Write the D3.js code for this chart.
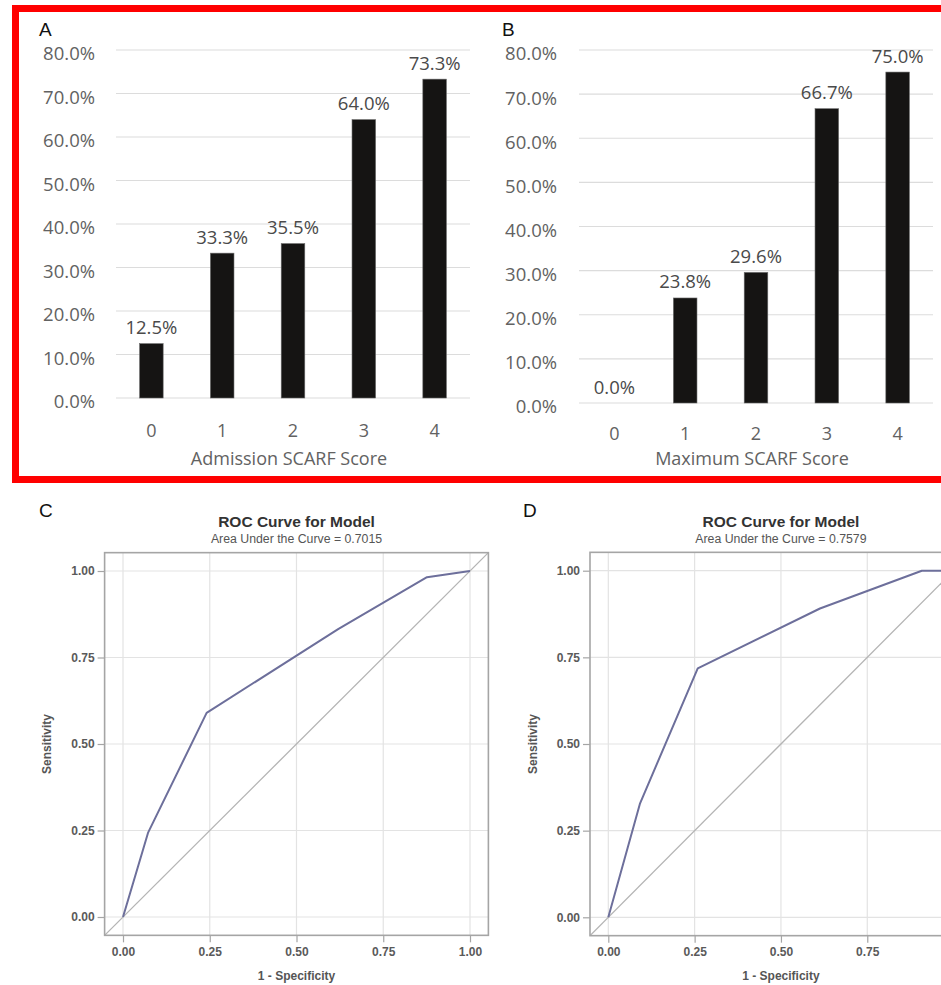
<!DOCTYPE html>
<html>
<head>
<meta charset="utf-8">
<script src="https://cdn.jsdelivr.net/npm/d3@7"></script>
<style>
  html, body { margin: 0; padding: 0; background: #fff; }
  svg { display: block; }
</style>
</head>
<body>
<svg id="fig" width="941" height="985"></svg>
<script>
// SCARF score categories and the percentage for each score
const scoreCategories = ["0", "1", "2", "3", "4"];
const admissionPct = [12.5, 33.3, 35.5, 64.0, 73.3];
const maximumPct = [0.0, 23.8, 29.6, 66.7, 75.0];
const pctTicks = [0, 10, 20, 30, 40, 50, 60, 70, 80];

// ROC curve vertices (1 - specificity, sensitivity)
const rocAdmissionFpr = [0.0, 0.072, 0.241, 0.62, 0.876, 1.0];
const rocAdmissionTpr = [0.0, 0.243, 0.590, 0.832, 0.982, 1.0];
const rocMaximumFpr = [0.0, 0.092, 0.259, 0.613, 0.908, 1.0];
const rocMaximumTpr = [0.0, 0.329, 0.718, 0.891, 1.0, 1.0];
const rocTicks = [0, 0.25, 0.5, 0.75, 1.0];

const svg = d3.select("#fig");
const svgWidth = +svg.attr("width");
const barFont = "'Open Sans', 'DejaVu Sans', sans-serif";
const rocFont = "'Liberation Sans', Arial, sans-serif";

// ---------- bar panels ----------
function drawBarPanel(cfg) {
  const g = svg.append("g");
  const x = d3.scaleBand()
    .domain(scoreCategories)
    .range([cfg.left, cfg.right])
    .paddingInner(0.667)
    .paddingOuter(0.333);
  const y = d3.scaleLinear().domain([0, 80]).range([cfg.bottom, cfg.top]);

  // horizontal gridlines
  g.selectAll("line.grid").data(pctTicks).join("line")
    .attr("x1", cfg.left).attr("x2", cfg.right)
    .attr("y1", d => y(d)).attr("y2", d => y(d))
    .attr("stroke", "#dcdcdc").attr("stroke-width", 1.2);

  // y tick labels
  g.selectAll("text.ytick").data(pctTicks).join("text")
    .attr("x", cfg.labelRight)
    .attr("y", d => y(d) + 4)
    .attr("dy", "0.35em")
    .attr("text-anchor", "end")
    .attr("font-family", barFont).attr("font-size", 18.5)
    .attr("fill", "#626262")
    .text(d => d3.format(".1f")(d) + "%");

  const vals = scoreCategories.map((c, i) => ({ c, v: cfg.values[i] }));

  // bars
  g.selectAll("rect.bar").data(vals).join("rect")
    .attr("x", d => x(d.c))
    .attr("width", x.bandwidth())
    .attr("y", d => y(d.v))
    .attr("height", d => y(0) - y(d.v))
    .attr("fill", "#151413")
    .attr("stroke", "#6a6a6a").attr("stroke-width", 0.6);

  // value labels
  g.selectAll("text.val").data(vals).join("text")
    .attr("x", d => x(d.c) + x.bandwidth() / 2)
    .attr("y", d => y(d.v) - 9.5)
    .attr("text-anchor", "middle")
    .attr("font-family", barFont).attr("font-size", 18.5)
    .attr("fill", "#4a4a4a")
    .text(d => d3.format(".1f")(d.v) + "%");

  // category labels
  g.selectAll("text.xtick").data(scoreCategories).join("text")
    .attr("x", d => x(d) + x.bandwidth() / 2)
    .attr("y", cfg.xTickY)
    .attr("text-anchor", "middle")
    .attr("font-family", barFont).attr("font-size", 18)
    .attr("fill", "#626262")
    .text(d => d);

  // axis title
  g.append("text")
    .attr("x", (cfg.left + cfg.right) / 2 - 4)
    .attr("y", 465)
    .attr("text-anchor", "middle")
    .attr("font-family", barFont).attr("font-size", 18)
    .attr("fill", "#626262")
    .text(cfg.title);

  // panel letter
  g.append("text")
    .attr("x", cfg.letterX).attr("y", 36)
    .attr("font-family", rocFont).attr("font-size", 19)
    .attr("fill", "#111")
    .text(cfg.letter);
}

drawBarPanel({
  letter: "A", letterX: 39, values: admissionPct,
  left: 116, right: 470, top: 50, bottom: 398,
  labelRight: 95, xTickY: 436.5, title: "Admission SCARF Score"
});
drawBarPanel({
  letter: "B", letterX: 502, values: maximumPct,
  left: 579, right: 933, top: 50, bottom: 403,
  labelRight: 557, xTickY: 439.5, title: "Maximum SCARF Score"
});

// red outline grouping the two bar panels
svg.append("rect")
  .attr("x", 15.5).attr("y", 8.5)
  .attr("width", 960).attr("height", 471)
  .attr("fill", "none")
  .attr("stroke", "#ff0000").attr("stroke-width", 7);

// ---------- ROC panels ----------
function drawRoc(cfg) {
  const g = svg.append("g");
  const x = d3.scaleLinear().domain([0, 1]).range([cfg.x0, cfg.x1]);
  const y = d3.scaleLinear().domain([0, 1]).range([cfg.y0, cfg.y1]);
  const pad = 0.053;
  const fx0 = x(-pad), fx1 = x(1 + pad), fy0 = y(-pad), fy1 = y(1 + pad);

  const clipId = "clip-" + cfg.letter;
  g.append("clipPath").attr("id", clipId)
    .append("rect")
    .attr("x", fx0).attr("y", fy1)
    .attr("width", fx1 - fx0).attr("height", fy0 - fy1);

  const plot = g.append("g").attr("clip-path", `url(#${clipId})`);

  // gridlines
  plot.selectAll("line.vg").data(rocTicks).join("line")
    .attr("x1", d => x(d)).attr("x2", d => x(d))
    .attr("y1", fy1).attr("y2", fy0)
    .attr("stroke", "#e3e3e3").attr("stroke-width", 1.2);
  plot.selectAll("line.hg").data(rocTicks).join("line")
    .attr("x1", fx0).attr("x2", fx1)
    .attr("y1", d => y(d)).attr("y2", d => y(d))
    .attr("stroke", "#e3e3e3").attr("stroke-width", 1.2);

  // chance diagonal
  plot.append("line")
    .attr("x1", x(-pad)).attr("y1", y(-pad))
    .attr("x2", x(1 + pad)).attr("y2", y(1 + pad))
    .attr("stroke", "#b4b4b4").attr("stroke-width", 1.3);

  // ROC curve
  const pts = cfg.fpr.map((f, i) => [f, cfg.tpr[i]]);
  plot.append("path")
    .datum(pts)
    .attr("d", d3.line().x(d => x(d[0])).y(d => y(d[1])))
    .attr("fill", "none")
    .attr("stroke", "#6d6f9b").attr("stroke-width", 2)
    .attr("stroke-linejoin", "round");

  // frame
  g.append("rect")
    .attr("x", fx0).attr("y", fy1)
    .attr("width", fx1 - fx0).attr("height", fy0 - fy1)
    .attr("fill", "none")
    .attr("stroke", "#a5a5a5").attr("stroke-width", 1.6);

  // axes (ticks + labels); x ticks whose label would run past the page edge are skipped
  const xTicksShown = rocTicks.filter(t => x(t) + 12 <= svgWidth);
  const yAxis = d3.axisLeft(y).tickValues(rocTicks).tickFormat(d3.format(".2f"))
    .tickSize(7).tickPadding(3);
  const xAxis = d3.axisBottom(x).tickValues(xTicksShown).tickFormat(d3.format(".2f"))
    .tickSize(7).tickPadding(5);
  const ya = g.append("g").attr("transform", `translate(${fx0},0)`).call(yAxis);
  const xa = g.append("g").attr("transform", `translate(0,${fy0})`).call(xAxis);
  [ya, xa].forEach(a => {
    a.select(".domain").remove();
    a.selectAll(".tick line").attr("stroke", "#a5a5a5").attr("stroke-width", 1.2);
    a.selectAll(".tick text")
      .attr("font-family", rocFont).attr("font-size", 12)
      .attr("font-weight", "bold").attr("fill", "#5a5a5a");
  });

  const cx = (fx0 + fx1) / 2;
  // title and subtitle
  g.append("text")
    .attr("x", cx).attr("y", 527)
    .attr("text-anchor", "middle")
    .attr("font-family", rocFont).attr("font-size", 15.5).attr("font-weight", "bold")
    .attr("fill", "#333")
    .text("ROC Curve for Model");
  g.append("text")
    .attr("x", cx).attr("y", 542.5)
    .attr("text-anchor", "middle")
    .attr("font-family", rocFont).attr("font-size", 12.3)
    .attr("fill", "#555")
    .text("Area Under the Curve = " + cfg.auc);

  // axis titles
  g.append("text")
    .attr("x", x(0.5)).attr("y", 980)
    .attr("text-anchor", "middle")
    .attr("font-family", rocFont).attr("font-size", 12).attr("font-weight", "bold")
    .attr("fill", "#555")
    .text("1 - Specificity");
  g.append("text")
    .attr("transform", `translate(${cfg.yTitleX},${y(0.5)}) rotate(-90)`)
    .attr("text-anchor", "middle")
    .attr("font-family", rocFont).attr("font-size", 12).attr("font-weight", "bold")
    .attr("fill", "#555")
    .text("Sensitivity");

  // panel letter
  g.append("text")
    .attr("x", cfg.letterX).attr("y", 517)
    .attr("font-family", rocFont).attr("font-size", 19)
    .attr("fill", "#111")
    .text(cfg.letter);
}

drawRoc({
  letter: "C", letterX: 39, auc: "0.7015",
  fpr: rocAdmissionFpr, tpr: rocAdmissionTpr,
  x0: 123, x1: 470, y0: 917, y1: 571, yTitleX: 51
});
drawRoc({
  letter: "D", letterX: 523, auc: "0.7579",
  fpr: rocMaximumFpr, tpr: rocMaximumTpr,
  x0: 608.3, x1: 953.6, y0: 917.3, y1: 570.7, yTitleX: 537
});
</script>
</body>
</html>
